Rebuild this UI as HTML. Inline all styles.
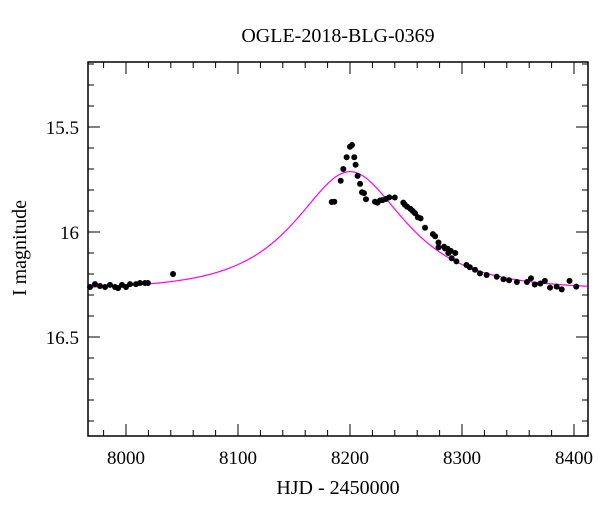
<!DOCTYPE html>
<html><head><meta charset="utf-8"><style>
body{margin:0;background:#fff}
svg text{font-family:"Liberation Serif",serif;fill:#000}
</style></head><body>
<svg id="c" width="600" height="512"></svg>
<script>
const obsHJD=[7967.9,7972.3,7976.8,7981.3,7985.7,7990.2,7992.9,7996.4,8000,8003.6,8008.9,8012.5,8017,8019.6,8042,
8183.7,8186,8191.7,8194,8197,8200,8201.8,8203.8,8205,8206.8,8209,8210.7,8212.5,8214.3,8222.3,8224.4,8226.8,8229,8232,8235,8240,
8247.6,8249,8251,8254,8256,8258,8260.5,8263,8267,8274,8276,8279,8284,8287,8290,8294,
8279,8284.8,8287.8,8290.8,8295,8304,8307,8311.6,8316,8322,8331,8337,8342,8349,8358,8361.6,8365,8370,8374,8378.6,8384.5,8389,8396,8402];
const obsMag=[16.262,16.248,16.257,16.262,16.252,16.262,16.267,16.252,16.262,16.248,16.248,16.243,16.243,16.243,16.20,
15.857,15.856,15.756,15.70,15.644,15.594,15.586,15.644,15.68,15.733,15.771,15.811,15.815,15.844,15.856,15.86,15.85,15.848,15.843,15.835,15.836,
15.86,15.87,15.88,15.89,15.90,15.91,15.93,15.935,15.98,16.01,16.02,16.05,16.07,16.08,16.09,16.10,
16.073,16.078,16.10,16.125,16.14,16.157,16.168,16.18,16.197,16.205,16.213,16.225,16.23,16.238,16.238,16.22,16.25,16.245,16.233,16.265,16.26,16.273,16.233,16.26];
const modelParams=[8200,0.7,70.7,16.275]; // t0, u0, tE, baseline
const xTickLabels=[8000,8100,8200,8300,8400];
const yTickLabels=[15.5,16,16.5];

const L=88,R=588,T=62,B=436;
const X=v=>126+(v-8000)*1.12;
const Y=m=>127+(m-15.5)*210;
const NS="http://www.w3.org/2000/svg";
const svg=document.getElementById('c');
function mk(t,a){const e=document.createElementNS(NS,t);for(const k in a)e.setAttribute(k,a[k]);svg.appendChild(e);return e;}

const frame=mk('rect',{x:L,y:T,width:R-L,height:B-T,fill:'none',stroke:'#000','stroke-width':1.5});



for(let v=7980;v<=8410;v+=20){
  const x=X(v); if(x<L||x>R)continue;
  const maj=v%100===0, len=maj?12:6;
  const t1=mk('line',{x1:x,y1:B,x2:x,y2:B-len,stroke:'#000','stroke-width':1});
  
  
  const t2=mk('line',{x1:x,y1:T,x2:x,y2:T+len,stroke:'#000','stroke-width':1});
  
  
}
xTickLabels.forEach(v=>{
  const t=mk('text',{x:X(v),y:B+28,'text-anchor':'middle','font-size':19});
  t.textContent=v;
  
  
});
for(let i=0;i<=18;i++){
  const m=15.2+i*0.1; const y=Y(m); if(y<T||y>B)continue;
  const maj=Math.abs(m*2-Math.round(m*2))<1e-6, len=maj?12:6;
  const t1=mk('line',{x1:L,y1:y,x2:L+len,y2:y,stroke:'#000','stroke-width':1});
  
  
  const t2=mk('line',{x1:R,y1:y,x2:R-len,y2:y,stroke:'#000','stroke-width':1});
  
  
}
yTickLabels.forEach(v=>{
  const t=mk('text',{x:L-9,y:Y(v)+7,'text-anchor':'end','font-size':19});
  t.textContent=v;
  
  
});

const [t0,u0,tE,base]=modelParams;
let d='';
for(let t=7966;t<=8412;t+=1){
  const u=Math.sqrt(u0*u0+((t-t0)/tE)**2);
  const A=(u*u+2)/(u*Math.sqrt(u*u+4));
  const m=base-2.5*Math.log10(A);
  d+=(d?'L':'M')+X(t).toFixed(1)+','+Y(m).toFixed(1);
}
const curve=mk('path',{d:d,fill:'none',stroke:'#ff00ff','stroke-width':1.2});



obsHJD.forEach((t,i)=>{
  const c=mk('circle',{cx:X(t),cy:Y(obsMag[i]),r:3,fill:'#000'});
  
  
});

const ti=mk('text',{x:338,y:42,'text-anchor':'middle','font-size':20});
ti.textContent='OGLE-2018-BLG-0369';


const xl=mk('text',{x:338,y:494,'text-anchor':'middle','font-size':20});
xl.textContent='HJD - 2450000';


const yl=mk('text',{x:0,y:0,'text-anchor':'middle','font-size':20,transform:'translate(26,248) rotate(-90)'});
yl.textContent='I magnitude';


</script>
</body></html>
